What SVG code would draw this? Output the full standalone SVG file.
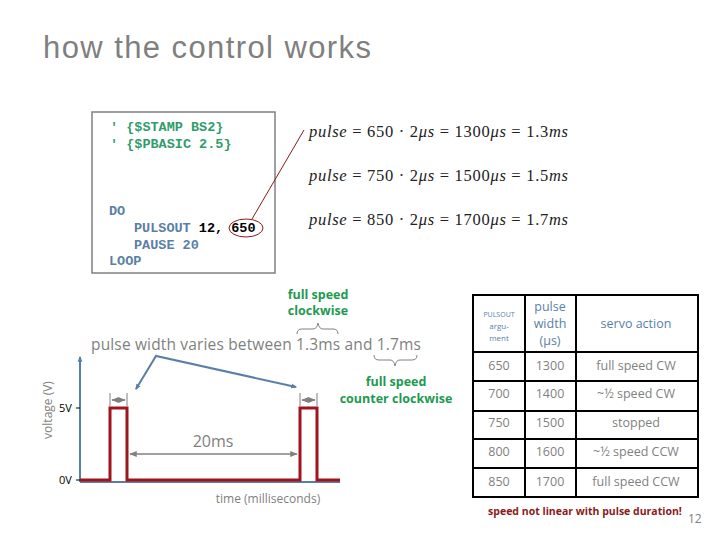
<svg xmlns="http://www.w3.org/2000/svg" width="720" height="540" viewBox="0 0 720 540">
<style>
.title{font-family:"Liberation Sans",Arial,sans-serif;font-size:31px;fill:#7f7f7f}
.code{font-family:"Liberation Mono","Courier New",monospace;font-size:13.5px;font-weight:bold}
.dir{fill:#2f9c6c}
.kw{fill:#5a7fa6}
.blk{fill:#000}
.eq{font-family:"Liberation Serif","Times New Roman",serif;font-size:16.5px;fill:#222}
.it{font-style:italic}
.gray{font-family:"Open Sans","Liberation Sans",sans-serif;fill:#7f7f7f}
.green{font-family:"Open Sans","Liberation Sans",sans-serif;font-size:12.5px;font-weight:bold;fill:#1e9a50}
.ax{font-family:"Open Sans","Liberation Sans",sans-serif;font-size:11px;fill:#000}
.cell{font-family:"Open Sans","Liberation Sans",sans-serif;font-size:12.5px;fill:#7f7f7f;text-anchor:middle}
.hdr{font-family:"Open Sans","Liberation Sans",sans-serif;fill:#5a7fa6;text-anchor:middle}
.blue{stroke:#5a7fa6;stroke-width:2;fill:none}
.red{stroke:#a0141e;stroke-width:3;fill:none}
.dim{stroke:#808080;stroke-width:1.5;fill:none}
.tbl{stroke:#000;stroke-width:2;fill:none}
.brace{stroke:#808080;stroke-width:1;fill:none}
</style>
<defs>
<marker id="ah" viewBox="0 0 10 10" refX="9" refY="5" markerWidth="5" markerHeight="5" orient="auto-start-reverse"><path d="M0,1 L10,5 L0,9 z" fill="#808080"/></marker>
<marker id="bh" viewBox="0 0 10 10" refX="8" refY="5" markerWidth="3" markerHeight="3" orient="auto-start-reverse"><path d="M0,1 L10,5 L0,9 z" fill="#5a7fa6"/></marker>
</defs>

<g id="title"><text class="title" x="43" y="58" textLength="328">how the control works</text></g>

<g id="code">
<rect x="92" y="112" width="183" height="161" fill="#fff" stroke="#808080" stroke-width="1.5"/>
<text class="code dir" x="110" y="131">' {$STAMP BS2}</text>
<text class="code dir" x="110" y="148">' {$PBASIC 2.5}</text>
<text class="code kw" x="109" y="215">DO</text>
<text class="code" x="134" y="232"><tspan class="kw">PULSOUT</tspan><tspan class="blk"> 12, 650</tspan></text>
<text class="code kw" x="134" y="249">PAUSE 20</text>
<text class="code kw" x="109" y="265">LOOP</text>
<ellipse cx="246" cy="228" rx="17" ry="9" fill="none" stroke="#8b1a1a" stroke-width="1"/>
</g>

<g id="connectors">
<line x1="252" y1="219" x2="304" y2="130" stroke="#8b1a1a" stroke-width="1"/>
<path class="blue" d="M136,389 L156,356 L296,387" marker-start="url(#bh)" marker-end="url(#bh)"/>
</g>

<g id="equations">
<text class="eq" x="309" y="137" textLength="259"><tspan class="it">pulse</tspan> = 650 · 2<tspan class="it">μs</tspan> = 1300<tspan class="it">μs</tspan> = 1.3<tspan class="it">ms</tspan></text>
<text class="eq" x="309" y="181" textLength="259"><tspan class="it">pulse</tspan> = 750 · 2<tspan class="it">μs</tspan> = 1500<tspan class="it">μs</tspan> = 1.5<tspan class="it">ms</tspan></text>
<text class="eq" x="309" y="225" textLength="259"><tspan class="it">pulse</tspan> = 850 · 2<tspan class="it">μs</tspan> = 1700<tspan class="it">μs</tspan> = 1.7<tspan class="it">ms</tspan></text>
</g>

<g id="labels">
<text class="green" x="318" y="299" text-anchor="middle">full speed</text>
<text class="green" x="318" y="315" text-anchor="middle">clockwise</text>
<text class="green" x="396" y="386" text-anchor="middle">full speed</text>
<text class="green" x="396" y="403" text-anchor="middle">counter clockwise</text>
<text class="gray" x="91" y="350" font-size="15.5" textLength="330">pulse width varies between 1.3ms and 1.7ms</text>
<path class="brace" d="M297,334 Q297,329 302,329 L313,329 Q317,329 318,323 Q319,329 323,329 L333,329 Q338,329 338,334"/>
<path class="brace" d="M374,355 Q374,360 379,360 L390,360 Q394,360 395,366 Q396,360 400,360 L412,360 Q417,360 417,355"/>
</g>

<g id="chart">
<line class="blue" x1="80" y1="482" x2="80" y2="357" marker-end="url(#bh)"/>
<line class="blue" x1="80" y1="482" x2="340" y2="482"/>
<path class="red" d="M80,480 L110,480 L110,408 L127,408 L127,480 L300,480 L300,408 L317,408 L317,480 L340,480"/>
<line x1="76" y1="408" x2="80" y2="408" stroke="#000" stroke-width="1"/>
<line x1="76" y1="480" x2="80" y2="480" stroke="#000" stroke-width="1"/>
<text class="ax" x="59" y="412">5V</text>
<text class="ax" x="59" y="484">0V</text>
<text class="gray" font-size="12" transform="translate(52,410) rotate(-90)" text-anchor="middle">voltage (V)</text>
<line x1="110" y1="393" x2="110" y2="406" stroke="#808080" stroke-width="1"/>
<line x1="127" y1="393" x2="127" y2="406" stroke="#808080" stroke-width="1"/>
<line class="dim" x1="112" y1="400" x2="125" y2="400" stroke-width="1" marker-start="url(#ah)" marker-end="url(#ah)"/>
<line x1="300" y1="393" x2="300" y2="406" stroke="#808080" stroke-width="1"/>
<line x1="317" y1="393" x2="317" y2="406" stroke="#808080" stroke-width="1"/>
<line class="dim" x1="302" y1="400" x2="315" y2="400" stroke-width="1" marker-start="url(#ah)" marker-end="url(#ah)"/>
<line class="dim" x1="130" y1="454" x2="297" y2="454" marker-start="url(#ah)" marker-end="url(#ah)"/>
<text class="gray" x="213" y="447" font-size="16" text-anchor="middle">20ms</text>
<text class="gray" x="268" y="503" font-size="12" text-anchor="middle">time (milliseconds)</text>
</g>

<g id="table">
<rect class="tbl" x="473" y="295" width="225" height="202"/>
<line class="tbl" x1="525" y1="295" x2="525" y2="497"/>
<line class="tbl" x1="576" y1="295" x2="576" y2="497"/>
<line class="tbl" x1="473" y1="352" x2="698" y2="352"/>
<line class="tbl" x1="473" y1="381" x2="698" y2="381"/>
<line class="tbl" x1="473" y1="411" x2="698" y2="411"/>
<line class="tbl" x1="473" y1="439" x2="698" y2="439"/>
<line class="tbl" x1="473" y1="468" x2="698" y2="468"/>
<text class="hdr" x="499" y="317" font-size="7">PULSOUT</text>
<text class="hdr" x="499" y="329" font-size="8">argu-</text>
<text class="hdr" x="499" y="341" font-size="8">ment</text>
<text class="hdr" x="550" y="311" font-size="12.5">pulse</text>
<text class="hdr" x="550" y="328" font-size="12.5">width</text>
<text class="hdr" x="550" y="345" font-size="12.5">(μs)</text>
<text class="hdr" x="636" y="328" font-size="12.5">servo action</text>
<text class="cell" x="499" y="370">650</text><text class="cell" x="550" y="370">1300</text><text class="cell" x="636" y="370">full speed CW</text>
<text class="cell" x="499" y="398">700</text><text class="cell" x="550" y="398">1400</text><text class="cell" x="636" y="398">~½ speed CW</text>
<text class="cell" x="499" y="427">750</text><text class="cell" x="550" y="427">1500</text><text class="cell" x="636" y="427">stopped</text>
<text class="cell" x="499" y="456">800</text><text class="cell" x="550" y="456">1600</text><text class="cell" x="636" y="456">~½ speed CCW</text>
<text class="cell" x="499" y="486">850</text><text class="cell" x="550" y="486">1700</text><text class="cell" x="636" y="486">full speed CCW</text>
<text x="585" y="515" text-anchor="middle" font-family="'Open Sans','Liberation Sans',sans-serif" font-size="10.5" font-weight="bold" fill="#8b1a1a">speed not linear with pulse duration!</text>
<text x="688" y="523" font-family="'Open Sans','Liberation Sans',sans-serif" font-size="12" fill="#7f7f7f">12</text>
</g>
</svg>
